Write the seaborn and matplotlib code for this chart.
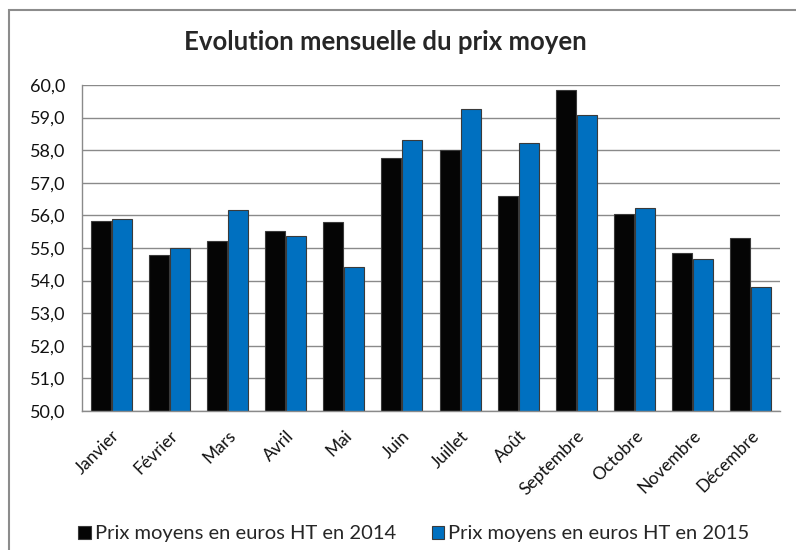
import pandas as pd
import matplotlib.pyplot as plt
import seaborn as sns
from matplotlib.patches import Rectangle
from matplotlib.ticker import FuncFormatter

# values
mois = ["Janvier", "Février", "Mars", "Avril", "Mai", "Juin", "Juillet",
        "Août", "Septembre", "Octobre", "Novembre", "Décembre"]
prix_2014 = [55.84, 54.80, 55.22, 55.51, 55.80, 57.77, 58.02,
             56.60, 59.86, 56.03, 54.85, 55.32]
prix_2015 = [55.88, 54.99, 56.16, 55.37, 54.42, 58.31, 59.26,
             58.22, 59.08, 56.23, 54.66, 53.80]
serie_2014 = "Prix moyens en euros HT en 2014"
serie_2015 = "Prix moyens en euros HT en 2015"

df = pd.DataFrame({
    "mois": mois * 2,
    "prix": prix_2014 + prix_2015,
    "serie": [serie_2014] * len(mois) + [serie_2015] * len(mois),
})

sns.set_theme(style="white")
plt.rcParams['font.family'] = ['Lato', 'DejaVu Sans']

fig = plt.figure(figsize=(7.96, 5.5), dpi=100)
ax = fig.add_axes([82 / 796, 1 - 411 / 550, 698 / 796, 326 / 550])

# outer chart frame (runs off the right and bottom edges like the original)
fig.patches.append(Rectangle((9 / 796, -0.05), 1.0, 1 - 10 / 550 + 0.05,
                             transform=fig.transFigure, fill=False,
                             edgecolor="#8c8c8c", linewidth=1.5))

ax.set_axisbelow(True)
ax.yaxis.grid(True, color="#8a8a8a", linewidth=1.0)

sns.barplot(
    data=df, x="mois", y="prix", hue="serie",
    palette={serie_2014: "#050505", serie_2015: "#0070c0"},
    saturation=1, width=0.72, gap=0.04, ax=ax,
    edgecolor="#3a3a3a", linewidth=0.8,
)

ax.set_ylim(50, 60)
ax.set_yticks([50 + i for i in range(11)])
ax.yaxis.set_major_formatter(FuncFormatter(lambda v, p: f"{v:.1f}".replace(".", ",")))
ax.set_xlim(-0.5, len(mois) - 0.5)
ax.set_xlabel("")
ax.set_ylabel("")

for s in ["top", "right"]:
    ax.spines[s].set_visible(False)
for s in ["left", "bottom"]:
    ax.spines[s].set_color("#8a8a8a")
    ax.spines[s].set_linewidth(1.0)

ax.tick_params(axis="y", labelsize=13, colors="#111111", pad=12, length=0)
ax.tick_params(axis="x", labelsize=12.5, colors="#111111", length=0, pad=12)
plt.setp(ax.get_xticklabels(), rotation=45, ha="right", rotation_mode="anchor")

fig.text(0.484, 1 - 42 / 550, "Evolution mensuelle du prix moyen",
         ha="center", va="center", fontsize=18.5, fontweight="bold")

ax.legend(loc="center", bbox_to_anchor=(0.52, 1 - 534 / 550), bbox_transform=fig.transFigure,
          ncol=2, frameon=False, fontsize=14.5, handlelength=0.6, handleheight=0.6,
          handletextpad=0.2, columnspacing=1.8)

plt.savefig("out.png", dpi=100)
plt.close()
